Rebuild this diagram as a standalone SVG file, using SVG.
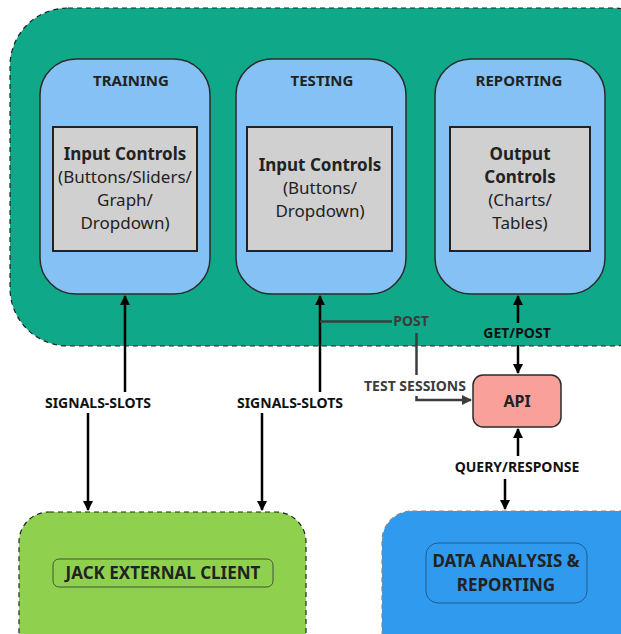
<svg xmlns="http://www.w3.org/2000/svg" width="621" height="634" viewBox="0 0 621 634">
<defs>
<style>
.t{font-family:"Noto Sans","Open Sans",sans-serif;fill:#222;text-anchor:middle}
.b{font-weight:bold}
.lbl{font-family:"Noto Sans","Open Sans",sans-serif;font-weight:bold;font-size:14px;fill:#111;text-anchor:middle}
.lblg{font-family:"Noto Sans","Open Sans",sans-serif;font-weight:bold;font-size:14px;fill:#3c3c3c;text-anchor:middle}
.card{fill:#85C1F5;stroke:#2b2b2b;stroke-width:1.5}
.gray{fill:#D0D0D0;stroke:#222;stroke-width:2}
.ln{stroke:#000;stroke-width:2.5;fill:none}
.lng{stroke:#3c3c3c;stroke-width:2.5;fill:none}
</style>
<marker id="ah" markerWidth="10" markerHeight="10" refX="9" refY="5" orient="auto" markerUnits="userSpaceOnUse"><path d="M0,0 L10,5 L0,10 z" fill="#000"/></marker>
<marker id="ahg" markerWidth="10" markerHeight="10" refX="9" refY="5" orient="auto" markerUnits="userSpaceOnUse"><path d="M0,0 L10,5 L0,10 z" fill="#3c3c3c"/></marker>
</defs>
<g id="app">
<rect x="10" y="8" width="660" height="338" rx="58" fill="#0FA888" stroke="#222" stroke-width="1.2" stroke-dasharray="5,4"/>
</g>
<g id="training">
<rect class="card" x="40" y="59" width="170" height="235" rx="36"/>
<text class="t b" x="131" y="86" font-size="15">TRAINING</text>
<rect class="gray" x="53" y="127" width="144" height="124"/>
<text class="t b" x="125" y="160" font-size="17">Input Controls</text>
<text class="t" x="125" y="183" font-size="17">(Buttons/Sliders/</text>
<text class="t" x="125" y="206" font-size="17">Graph/</text>
<text class="t" x="125" y="229" font-size="17">Dropdown)</text>
</g>
<g id="testing">
<rect class="card" x="236" y="59" width="170" height="235" rx="36"/>
<text class="t b" x="322" y="86" font-size="15">TESTING</text>
<rect class="gray" x="247" y="127" width="145" height="124"/>
<text class="t b" x="320" y="171" font-size="17">Input Controls</text>
<text class="t" x="320" y="194" font-size="17">(Buttons/</text>
<text class="t" x="320" y="217" font-size="17">Dropdown)</text>
</g>
<g id="reporting">
<rect class="card" x="435" y="59" width="170" height="235" rx="36"/>
<text class="t b" x="519" y="86" font-size="15">REPORTING</text>
<rect class="gray" x="450" y="127" width="140" height="124"/>
<text class="t b" x="520" y="160" font-size="17">Output</text>
<text class="t b" x="520" y="183" font-size="17">Controls</text>
<text class="t" x="520" y="206" font-size="17">(Charts/</text>
<text class="t" x="520" y="229" font-size="17">Tables)</text>
</g>
<g id="api">
<rect x="473" y="375" width="88" height="52" rx="10" fill="#F9A09A" stroke="#2b2b2b" stroke-width="1.5"/>
<text class="t b" x="517" y="407" font-size="16">API</text>
</g>
<g id="jack">
<rect x="19" y="512" width="287" height="150" rx="30" fill="#8FD14F" stroke="#222" stroke-width="1.2" stroke-dasharray="5,4"/>
<rect x="53" y="559" width="220" height="28" rx="6" fill="none" stroke="#333" stroke-width="0.8"/>
<text class="t b" x="163" y="579" font-size="17">JACK EXTERNAL CLIENT</text>
</g>
<g id="data">
<rect x="382" y="511" width="280" height="150" rx="30" fill="#2F9AEE" stroke="#888" stroke-width="1.2" stroke-dasharray="5,4"/>
<rect x="426" y="543" width="161" height="60" rx="12" fill="none" stroke="#1d4f7a" stroke-width="0.8"/>
<text class="t b" x="506" y="567" font-size="17">DATA ANALYSIS &amp;</text>
<text class="t b" x="506" y="591" font-size="17">REPORTING</text>
</g>
<g id="connectors">
<path class="ln" d="M125,392 V296" marker-end="url(#ah)"/>
<path class="ln" d="M88,413 V510" marker-end="url(#ah)"/>
<text class="lbl" x="98" y="408">SIGNALS-SLOTS</text>
<path class="ln" d="M320,392 V296" marker-end="url(#ah)"/>
<path class="ln" d="M262,413 V510" marker-end="url(#ah)"/>
<text class="lbl" x="290" y="408">SIGNALS-SLOTS</text>
<path class="lng" d="M320,321.5 H392"/>
<text class="lblg" x="411" y="326">POST</text>
<path class="lng" d="M416.5,333 V375"/>
<text class="lblg" x="415" y="391">TEST SESSIONS</text>
<path class="lng" d="M416.5,396 V400 H471" marker-end="url(#ahg)"/>
<path class="ln" d="M518,323 V296" marker-end="url(#ah)"/>
<text class="lbl" x="517" y="338">GET/POST</text>
<path class="ln" d="M518,345 V373" marker-end="url(#ah)"/>
<path class="ln" d="M518,456 V429" marker-end="url(#ah)"/>
<text class="lbl" x="517" y="472">QUERY/RESPONSE</text>
<path class="ln" d="M505,479 V509" marker-end="url(#ah)"/>
</g>
</svg>
